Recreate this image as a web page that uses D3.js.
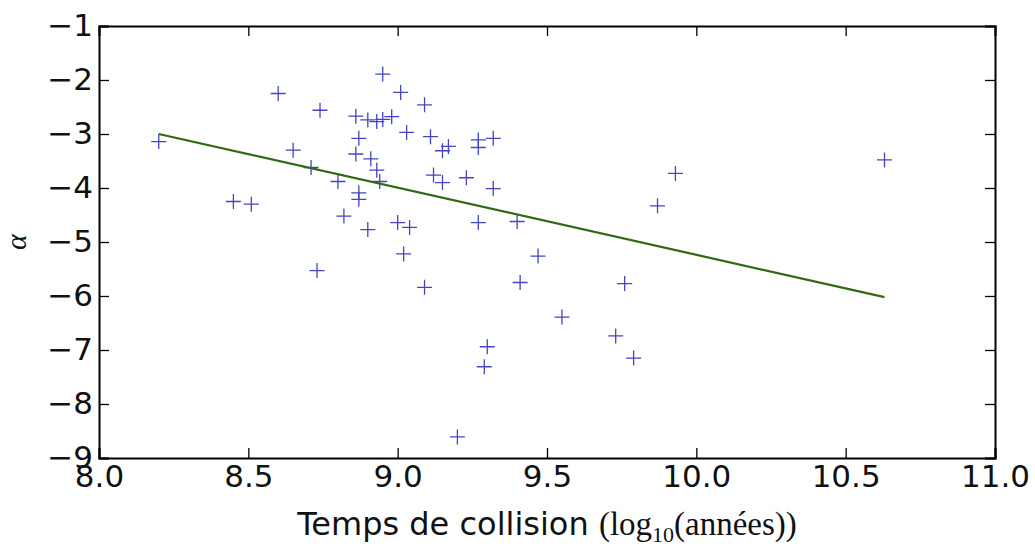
<!DOCTYPE html>
<html lang="fr">
<head>
<meta charset="utf-8">
<title>alpha vs temps de collision</title>
<script src="https://cdn.jsdelivr.net/npm/d3@7"></script>
<style>
  body { margin: 0; background: #fff; }
  .axis path, .axis line { stroke: #000; }
  .axis text { font-family: "DejaVu Sans", sans-serif; font-size: 31px; fill: #111; }
</style>
</head>
<body>
<script>
// data
var logTime = [8.20, 8.45, 8.51, 8.60, 8.65, 8.71, 8.73, 8.74, 8.80, 8.82,
               8.86, 8.86, 8.87, 8.87, 8.87, 8.90, 8.90, 8.91, 8.93, 8.93,
               8.94, 8.95, 8.95, 8.98, 9.00, 9.01, 9.02, 9.03, 9.04, 9.09,
               9.09, 9.11, 9.12, 9.15, 9.15, 9.17, 9.20, 9.23, 9.27, 9.27,
               9.27, 9.29, 9.30, 9.32, 9.32, 9.40, 9.41, 9.47, 9.55, 9.73,
               9.76, 9.79, 9.87, 9.93, 10.63];
var alpha = [-3.14, -4.25, -4.30, -2.25, -3.30, -3.62, -5.53, -2.56, -3.88, -4.52,
             -2.67, -3.37, -3.08, -4.09, -4.21, -2.74, -4.77, -3.46, -2.77, -3.67,
             -3.88, -2.73, -1.89, -2.68, -4.64, -2.23, -5.22, -2.97, -4.73, -2.46,
             -5.84, -3.05, -3.76, -3.31, -3.90, -3.23, -8.61, -3.81, -3.11, -3.25,
             -4.64, -7.31, -6.94, -3.08, -4.01, -4.62, -5.75, -5.26, -6.39, -6.74,
             -5.77, -7.15, -4.33, -3.73, -3.48];
// fitted line end points
var fitX = [8.20, 10.63];
var fitY = [-3.00, -6.02];
var xTicks = [8.0, 8.5, 9.0, 9.5, 10.0, 10.5, 11.0];
var yTicks = [-1, -2, -3, -4, -5, -6, -7, -8, -9];

var margin = {top: 26, right: 40, bottom: 88, left: 99};
var outer_width = 1035, outer_height = 546;
var w = outer_width - margin.left - margin.right;
var h = outer_height - margin.top - margin.bottom;

var svg = d3.select("body").append("svg")
    .attr("width", outer_width)
    .attr("height", outer_height)
  .append("g")
    .attr("transform", "translate(" + margin.left + "," + margin.top + ")");

var x = d3.scaleLinear().domain([8, 11]).range([0, w]);
var y = d3.scaleLinear().domain([-9, -1]).range([h, 0]);

var fmtX = d3.format(".1f");
var fmtY = function(d) { return String(d).replace("-", "\u2212"); };

// axes, ticks point inwards on all four sides
svg.append("g").attr("class", "axis")
    .attr("transform", "translate(0," + h + ")")
    .call(d3.axisBottom(x).tickValues(xTicks).tickFormat(fmtX).tickSize(-10).tickPadding(7));
svg.append("g").attr("class", "axis")
    .call(d3.axisTop(x).tickValues(xTicks).tickFormat("").tickSize(-10));
svg.append("g").attr("class", "axis")
    .call(d3.axisLeft(y).tickValues(yTicks).tickFormat(fmtY).tickSize(-10).tickPadding(6));
svg.append("g").attr("class", "axis")
    .attr("transform", "translate(" + w + ",0)")
    .call(d3.axisRight(y).tickValues(yTicks).tickFormat("").tickSize(-10));

svg.selectAll(".axis path.domain").attr("stroke-width", 2);
svg.selectAll(".axis line").attr("stroke-width", 1.3);

// scatter as "+" markers
svg.selectAll("path.pt")
    .data(logTime)
  .enter().append("path")
    .attr("class", "pt")
    .attr("d", "M-7.5,0H7.5M0,-7.5V7.5")
    .attr("transform", function(d, i) { return "translate(" + x(d) + "," + y(alpha[i]) + ")"; })
    .attr("fill", "none")
    .attr("stroke", "#4444c4")
    .attr("stroke-width", 1.3);

// fitted line
var line = d3.line()
    .x(function(d) { return x(d); })
    .y(function(d, i) { return y(fitY[i]); });
svg.append("path")
    .datum(fitX)
    .attr("d", line)
    .attr("fill", "none")
    .attr("stroke", "#2f6a12")
    .attr("stroke-width", 2.2);

// x label : sans part + latex-like serif part
var xl = svg.append("text")
    .attr("x", w / 2)
    .attr("y", h + 77)
    .attr("text-anchor", "middle")
    .attr("fill", "#111");
xl.append("tspan").attr("font-family", "DejaVu Sans, sans-serif").attr("font-size", "32px").text("Temps de collision ");
xl.append("tspan").attr("font-family", "Liberation Serif, serif").attr("font-size", "33px").text("(log");
xl.append("tspan").attr("font-family", "Liberation Serif, serif").attr("font-size", "22px").attr("dy", 7).text("10");
xl.append("tspan").attr("font-family", "Liberation Serif, serif").attr("font-size", "33px").attr("dy", -7).text("(années))");

// y label
svg.append("text")
    .attr("transform", "translate(" + (-73) + "," + (h / 2) + ")rotate(-90)")
    .attr("text-anchor", "middle")
    .attr("font-family", "Liberation Serif, serif")
    .attr("font-style", "italic")
    .attr("font-size", "30px")
    .attr("fill", "#111")
    .text("α");
</script>
</body>
</html>
